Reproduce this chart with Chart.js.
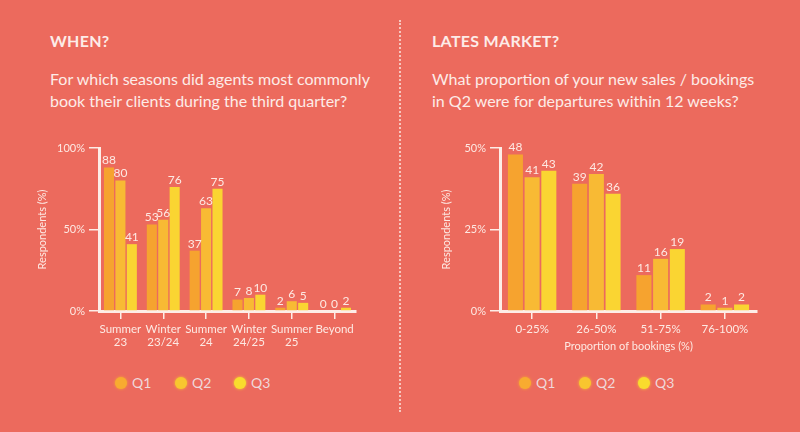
<!DOCTYPE html>
<html>
<head>
<meta charset="utf-8">
<script src="https://cdn.jsdelivr.net/npm/chart.js@4/dist/chart.umd.min.js"></script>
<style>
  html, body { margin: 0; padding: 0; }
  body { width: 800px; height: 432px; background: #ec6a5d; position: relative; overflow: hidden;
         font-family: Lato, "Noto Sans", sans-serif; color: #fdece8; }
  .head { position: absolute; font-weight: 700; font-size: 16px; letter-spacing: 0.3px; }
  .question { position: absolute; font-size: 16px; line-height: 22px; width: 335px; }
  .panel { position: absolute; top: 130px; width: 400px; height: 230px; }
  .divider { position: absolute; left: 399px; top: 20px; height: 392px; border-left: 2px dotted #f6c7bf; }
  .legend { position: absolute; top: 374px; height: 18px; font-size: 14px; color: #f0d8da; }
  .legend span.item { position: absolute; white-space: nowrap; line-height: 18px; }
  .legend i { position: absolute; top: 3px; width: 12px; height: 12px; border-radius: 50%; }
</style>
</head>
<body>
<div class="head" style="left:50px;top:31px;">WHEN?</div>
<div class="question" style="left:50px;top:68px;">For which seasons did agents most commonly book their clients during the third quarter?</div>
<div class="head" style="left:432px;top:31px;">LATES MARKET?</div>
<div class="question" style="left:432px;top:68px;">What proportion of your new sales / bookings in Q2 were for departures within 12 weeks?</div>
<div class="divider"></div>

<div class="panel" style="left:0;"><canvas id="season-chart"></canvas></div>
<div class="panel" style="left:400px;"><canvas id="booking-chart"></canvas></div>

<div class="legend" id="legend-left" style="left:0;"></div>
<div class="legend" id="legend-right" style="left:400px;"></div>

<script>
// when did agents book (Q3 survey)
const seasonLabels = [['Summer', '23'], ['Winter', '23/24'], ['Summer', '24'], ['Winter', '24/25'], ['Summer', '25'], ['Beyond']];
const seasonQ1 = [88, 53, 37, 7, 2, 0];
const seasonQ2 = [80, 56, 63, 8, 6, 0];
const seasonQ3 = [41, 76, 75, 10, 5, 2];
const seasonTicks = [0, 50, 100];

// lates market
const bookingLabels = ['0-25%', '26-50%', '51-75%', '76-100%'];
const bookingQ1 = [48, 39, 11, 2];
const bookingQ2 = [41, 42, 16, 1];
const bookingQ3 = [43, 36, 19, 2];
const bookingTicks = [0, 25, 50];

const seriesNames = ['Q1', 'Q2', 'Q3'];
const barColors = ['#f6a32f', '#f8ba34', '#fad532'];
const dotColors = ['#f8ab30', '#f8c62f', '#f9dc2d'];
const lineColor = '#fdede7';
const textColor = '#fde9e3';

// value labels on top of each bar
const valueLabels = {
    id: 'valueLabels',
    afterDatasetsDraw(chart, args, opts) {
        const ctx = chart.ctx;
        ctx.save();
        ctx.fillStyle = textColor;
        ctx.font = opts.size + 'px Lato, sans-serif';
        ctx.textAlign = 'center';
        ctx.textBaseline = 'bottom';
        chart.data.datasets.forEach(function(ds, i) {
            chart.getDatasetMeta(i).data.forEach(function(bar, j) {
                ctx.fillText(String(ds.data[j]), bar.x, bar.y - 1);
            });
        });
        ctx.restore();
    }
};

function makeChart(id, labels, series, ticks, opt) {
    const ctx = document.getElementById(id).getContext('2d');
    return new Chart(ctx, {
        type: 'bar',
        data: {
            labels: labels,
            datasets: series.map(function(d, i) {
                return {
                    label: seriesNames[i],
                    data: d,
                    backgroundColor: barColors[i],
                    categoryPercentage: opt.cat,
                    barPercentage: opt.bar
                };
            })
        },
        options: {
            responsive: true,
            maintainAspectRatio: false,
            animation: false,
            layout: { padding: { left: opt.padLeft, right: opt.padRight, top: 18, bottom: 0 } },
            plugins: {
                legend: { display: false },
                tooltip: { enabled: false },
                valueLabels: { size: opt.labelSize }
            },
            scales: {
                x: {
                    grid: { display: true, drawOnChartArea: false, drawTicks: true, tickLength: 8, offset: false, color: lineColor, lineWidth: 1.5 },
                    border: { display: true, color: lineColor, width: 3 },
                    ticks: { color: textColor, font: { family: 'Lato', size: 11.5, lineHeight: 1.12 }, padding: 4, maxRotation: 0, autoSkip: false },
                    title: { display: !!opt.xTitle, text: opt.xTitle, color: textColor, font: { family: 'Lato', size: 11 }, padding: { top: 1, bottom: 7 } },
                    afterFit: function(scale) { scale.height = 49; }
                },
                y: {
                    min: 0,
                    max: ticks[ticks.length - 1],
                    afterBuildTicks: function(scale) { scale.ticks = ticks.map(function(v) { return { value: v }; }); },
                    grid: { display: true, drawOnChartArea: false, drawTicks: true, tickLength: 10, color: lineColor, lineWidth: 1.5 },
                    border: { display: true, color: lineColor, width: 3 },
                    ticks: { color: textColor, font: { family: 'Lato', size: 11 }, padding: 4, callback: function(v) { return v + '%'; } },
                    title: { display: true, text: 'Respondents (%)', color: textColor, font: { family: 'Lato', size: 11 }, padding: { top: 0, bottom: 0 } },
                    afterFit: function(scale) { scale.width = opt.yWidth; }
                }
            }
        },
        plugins: [valueLabels]
    });
}

makeChart('season-chart', seasonLabels, [seasonQ1, seasonQ2, seasonQ3], seasonTicks,
    { padLeft: 36, padRight: 44, yWidth: 63, cat: 0.8, bar: 0.88, labelSize: 12 });
makeChart('booking-chart', bookingLabels, [bookingQ1, bookingQ2, bookingQ3], bookingTicks,
    { padLeft: 40, padRight: 43, yWidth: 60, cat: 0.78, bar: 0.9, labelSize: 12, xTitle: 'Proportion of bookings (%)' });

// legends
function buildLegend(id, xs) {
    const el = document.getElementById(id);
    seriesNames.forEach(function(name, i) {
        const item = document.createElement('span');
        item.className = 'item';
        item.style.left = (xs[i] - 6) + 'px';
        item.innerHTML = '<i style="left:0;background:' + dotColors[i] + ';box-shadow:0 0 3px ' + dotColors[i] + '"></i>' +
            '<span style="margin-left:17px">' + name + '</span>';
        el.appendChild(item);
    });
}
buildLegend('legend-left', [121, 181, 240]);
buildLegend('legend-right', [125, 185, 244]);
</script>
</body>
</html>
